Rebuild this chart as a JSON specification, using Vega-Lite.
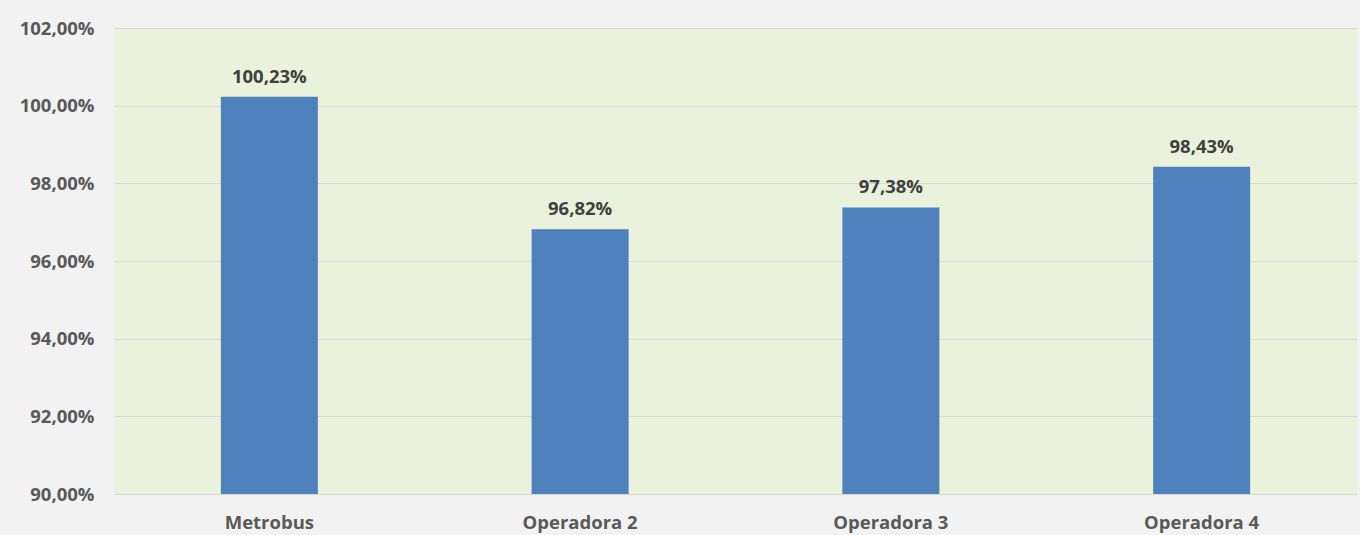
{
  "$schema": "https://vega.github.io/schema/vega-lite/v6.json",
  "width": 1243,
  "height": 466,
  "autosize": {"type": "none"},
  "padding": {"left": 114, "top": 28, "right": 3, "bottom": 41},
  "background": "#f2f2f2",
  "config": {
    "view": {"fill": "#eaf2db", "stroke": null},
    "font": "Open Sans"
  },
  "data": {
    "values": [
      {"operador": "Metrobus", "valor": 100.23},
      {"operador": "Operadora 2", "valor": 96.82},
      {"operador": "Operadora 3", "valor": 97.38},
      {"operador": "Operadora 4", "valor": 98.43}
    ]
  },
  "encoding": {
    "x": {
      "field": "operador",
      "type": "nominal",
      "sort": null,
      "scale": {"paddingInner": 0, "paddingOuter": 0},
      "axis": {
        "title": null,
        "labelAngle": 0,
        "domain": false,
        "ticks": false,
        "labelPadding": 19,
        "labelFontSize": 18.5,
        "labelFontWeight": "bold",
        "labelColor": "#595959"
      }
    },
    "y": {
      "field": "valor",
      "type": "quantitative",
      "scale": {"domain": [90, 102], "nice": false, "zero": false},
      "axis": {
        "title": null,
        "values": [90, 92, 94, 96, 98, 100, 102],
        "domain": false,
        "ticks": false,
        "labelPadding": 20,
        "labelFontSize": 18.5,
        "labelFontWeight": "bold",
        "labelColor": "#595959",
        "gridColor": "#d9d9d9",
        "gridWidth": 1,
        "labelExpr": "replace(format(datum.value, '.2f'), '.', ',') + '%'"
      }
    }
  },
  "layer": [
    {
      "mark": {"type": "bar", "size": 97, "color": "#4f81bd", "clip": true},
      "encoding": {"y2": {"datum": 90}}
    },
    {
      "transform": [
        {"calculate": "replace(format(datum.valor, '.2f'), '.', ',') + '%'", "as": "etiqueta"}
      ],
      "mark": {
        "type": "text",
        "baseline": "bottom",
        "dy": -10,
        "fontSize": 18.5,
        "fontWeight": "bold",
        "color": "#404040"
      },
      "encoding": {
        "text": {"field": "etiqueta", "type": "nominal"}
      }
    }
  ]
}
